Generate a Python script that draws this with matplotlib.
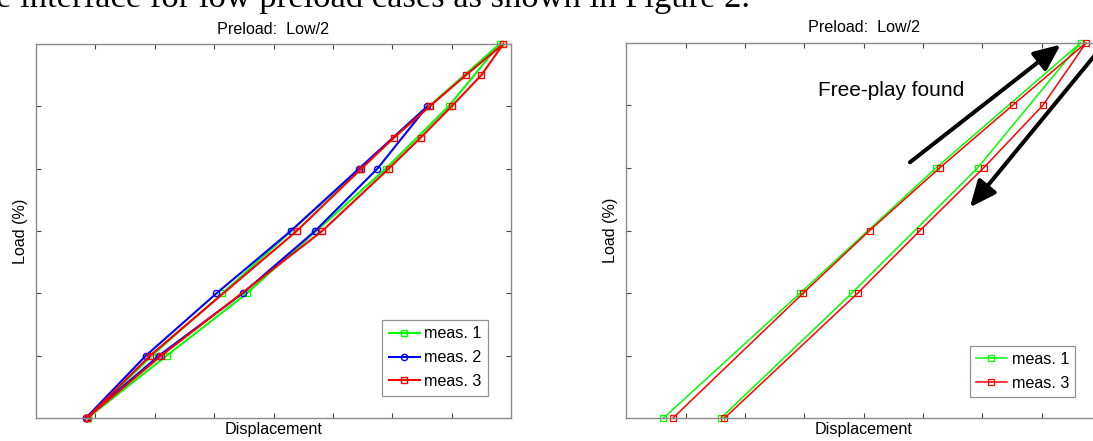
import matplotlib
matplotlib.use("Agg")
import matplotlib.pyplot as plt

# Left panel: preload Low/2, three measurements (loading up the left branch, unloading down the right)
m1_x = [0.87, 1.95, 3.14, 4.30, 5.45, 6.62, 7.81, 6.95, 5.89, 4.72, 3.55, 2.20, 0.87]
m1_y = [0, 1, 2, 3, 4, 5, 6, 5, 4, 3, 2, 1, 0]
m2_x = [0.84, 1.85, 3.04, 4.29, 5.44, 6.59, 5.75, 4.70, 3.48, 2.07, 0.84]
m2_y = [0, 1, 2, 3, 4, 5, 4, 3, 2, 1, 0]
m3_x = [0.86, 1.92, 4.39, 5.48, 6.03, 6.63, 7.24, 7.87, 7.50, 7.00, 6.48, 5.94, 4.82, 2.11, 0.86]
m3_y = [0, 1, 3, 4, 4.5, 5, 5.5, 6, 5.5, 5, 4.5, 4, 3, 1, 0]

# Right panel: free-play case, meas. 1 and 3
r1_x = [0.62, 2.93, 5.22, 7.66, 5.92, 3.80, 1.59]
r1_y = [0, 2, 4, 6, 4, 2, 0]
r3_x = [0.78, 2.98, 4.10, 5.28, 6.51, 7.75, 7.02, 6.02, 4.95, 3.90, 1.65]
r3_y = [0, 2, 3, 4, 5, 6, 5, 4, 3, 2, 0]

title = "Preload:  Low/2"
x_ticks = [1, 2, 3, 4, 5, 6, 7]
y_ticks = [1, 2, 3, 4, 5]

plt.rcParams['font.family'] = ['Liberation Sans', 'DejaVu Sans']
FS = 11.6

W, H = 1093, 441
fig = plt.figure(figsize=(W / 100, H / 100), dpi=100)

# piece of the surrounding document text, cut off at the top of the image
fig.text(-0.004, 434 / H, "e interface for low preload cases as shown in Figure 2.",
         family='Liberation Serif', fontsize=24.8, va='baseline', ha='left')

ax1 = fig.add_axes([36 / W, 23 / H, 475 / W, 374 / H])
ax2 = fig.add_axes([626.4 / W, 22.7 / H, 474.6 / W, 375.6 / H])


def style(ax):
    ax.set_xlim(0, 8)
    ax.set_ylim(0, 6)
    ax.set_xticks(x_ticks)
    ax.set_yticks(y_ticks)
    ax.tick_params(direction='in', length=3.6, width=0.8, color='#444444',
                   top=True, right=True, labelbottom=False, labelleft=False)
    for s in ax.spines.values():
        s.set_color('#8a8a8a')
        s.set_linewidth(1.0)
    ax.set_title(title, fontsize=FS, pad=7.5)
    ax.set_xlabel("Displacement", fontsize=FS, labelpad=3)
    ax.set_ylabel("Load (%)", fontsize=FS, labelpad=6)


def legend(ax, anchor):
    leg = ax.legend(loc='lower right', bbox_to_anchor=anchor, borderaxespad=0,
                    fontsize=FS, fancybox=False, handlelength=1.9, handletextpad=0.3,
                    borderpad=0.4, labelspacing=0.55, numpoints=1)
    leg.get_frame().set_edgecolor('#777777')
    leg.get_frame().set_linewidth(0.9)


ax1.plot(m1_x, m1_y, color=(0, 1, 0), lw=1.5, marker='s', ms=4.3, mfc='none', mew=1.0,
         label="meas. 1", clip_on=False)
ax1.plot(m2_x, m2_y, color=(0, 0, 1), lw=1.5, marker='o', ms=4.5, mfc='none', mew=1.0,
         label="meas. 2", clip_on=False)
ax1.plot(m3_x, m3_y, color=(1, 0, 0), lw=1.5, marker='s', ms=4.3, mfc='none', mew=1.0,
         label="meas. 3", clip_on=False)
style(ax1)
legend(ax1, (0.952, 0.060))

ax2.plot(r1_x, r1_y, color=(0, 1, 0), lw=1.1, marker='s', ms=3.7, mfc='none', mew=0.9,
         label="meas. 1", clip_on=False)
ax2.plot(r3_x, r3_y, color=(1, 0, 0), lw=1.1, marker='s', ms=3.7, mfc='none', mew=0.9,
         label="meas. 3", clip_on=False)
style(ax2)
legend(ax2, (0.946, 0.056))

# free-play arrows and note
arrow = dict(arrowstyle='-|>,head_length=0.8,head_width=0.35', color='black',
             lw=2.9, shrinkA=0, shrinkB=0, mutation_scale=20)
ax2.annotate("", xy=(7.32, 5.97), xytext=(4.78, 4.09), arrowprops=arrow,
             annotation_clip=False)
ax2.annotate("", xy=(5.79, 3.37), xytext=(8.2, 6.15), arrowprops=arrow,
             annotation_clip=False)
ax2.text(3.23, 5.24, "Free-play found", fontsize=15, va='center', ha='left')

fig.savefig("out.png", dpi=100)
